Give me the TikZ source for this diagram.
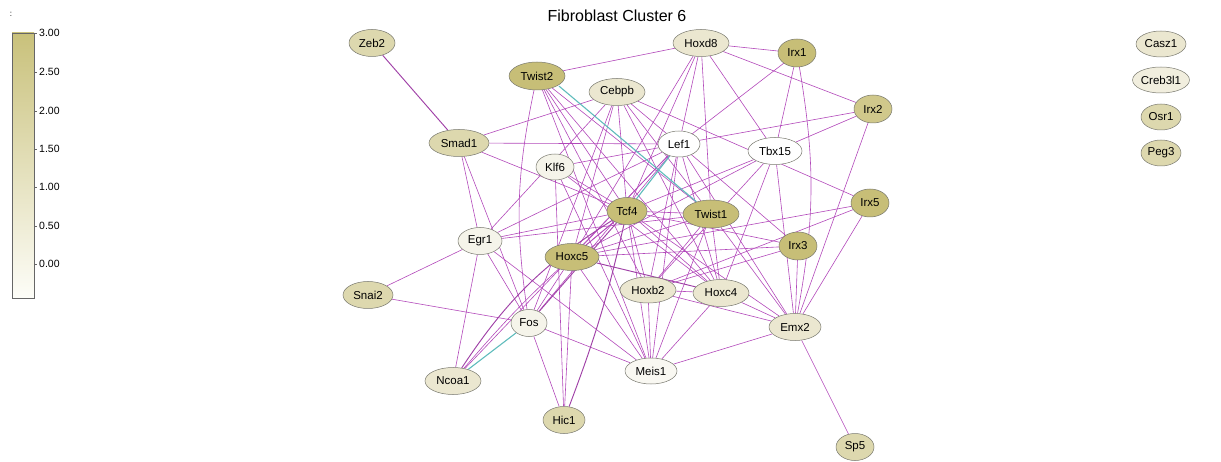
\documentclass[tikz,border=0pt]{standalone}
\usepackage{fontspec}
\setmainfont{Liberation Sans}
\usetikzlibrary{shapes.geometric}
\pgfdeclarelayer{bg}
\pgfsetlayers{bg,main}
\definecolor{cfive}{RGB}{199,190,119}
\definecolor{cfour}{RGB}{208,200,139}
\definecolor{cthree}{RGB}{221,216,174}
\definecolor{ctwo}{RGB}{235,231,208}
\definecolor{cone}{RGB}{245,244,234}
\definecolor{czero}{RGB}{255,255,255}
\definecolor{cbtop}{RGB}{201,193,123}
\definecolor{cbbot}{RGB}{253,253,248}
\definecolor{edgepurple}{RGB}{178,72,186}
\definecolor{edgeteal}{RGB}{95,188,188}
\definecolor{nodeborder}{RGB}{120,120,110}
\begin{document}
\begin{tikzpicture}[x=1pt,y=1pt,
  gn/.style={ellipse, draw=nodeborder, line width=0.5pt, inner sep=0pt,
    minimum height=27pt, font=\fontsize{11.5}{13}\selectfont},
  e/.style={draw=edgepurple, line width=0.6pt},
  eh/.style={draw=edgepurple!90!black, line width=0.95pt},
  et/.style={draw=edgeteal, line width=1.1pt},
  lab/.style={anchor=west, font=\fontsize{10.5}{12}\selectfont, inner sep=1pt}]
\useasboundingbox (0,0) rectangle (1221,-462);

% title
\node[font=\fontsize{16}{18}\selectfont] (title) at (617,-16) {Fibroblast Cluster 6};

% legend
\node[font=\fontsize{8}{9}\selectfont, inner sep=0pt] (colon) at (11,-14) {:};
\shade[top color=cbtop, bottom color=cbbot] (12,-33) rectangle (34,-298);
\draw[gray!80!black, line width=0.5pt] (12,-33) rectangle (34,-298);
\foreach \v/\y in {3.00/33,2.50/72,2.00/111,1.50/149,1.00/187,0.50/226,0.00/264}{
  \draw[gray!80!black, line width=0.5pt] (34,-\y) -- (37,-\y);
  \node[lab] (tick\y) at (38,-\y) {\v};
}

% nodes
\node[gn, minimum width=46pt, fill=cthree] (Zeb2) at (372,-43) {Zeb2};
\node[gn, minimum width=56pt, minimum height=28pt, fill=cfive] (Twist2) at (537,-76) {Twist2};
\node[gn, minimum width=56pt, fill=ctwo] (Cebpb) at (617,-92) {Cebpb};
\node[gn, minimum width=56pt, fill=ctwo] (Hoxd8) at (701,-43) {Hoxd8};
\node[gn, minimum width=38pt, minimum height=28pt, fill=cfive] (Irx1) at (797,-53) {Irx1};
\node[gn, minimum width=38pt, minimum height=28pt, fill=cfour] (Irx2) at (873,-109) {Irx2};
\node[gn, minimum width=60pt, fill=cthree] (Smad1) at (459,-143) {Smad1};
\node[gn, minimum width=42pt, minimum height=26pt, fill=czero] (Lef1) at (679,-144) {Lef1};
\node[gn, minimum width=54pt, fill=czero] (Tbx15) at (775,-151) {Tbx15};
\node[gn, minimum width=38pt, minimum height=26pt, fill=cone] (Klf6) at (555,-167) {Klf6};
\node[gn, minimum width=40pt, fill=cfive] (Tcf4) at (627,-211) {Tcf4};
\node[gn, minimum width=56pt, minimum height=28pt, fill=cfive] (Twist1) at (711,-214) {Twist1};
\node[gn, minimum width=38pt, minimum height=28pt, fill=cfive] (Irx5) at (870,-203) {Irx5};
\node[gn, minimum width=44pt, fill=cone] (Egr1) at (480,-241) {Egr1};
\node[gn, minimum width=38pt, minimum height=28pt, fill=cfive] (Irx3) at (798,-246) {Irx3};
\node[gn, minimum width=54pt, fill=cfive] (Hoxc5) at (572,-257) {Hoxc5};
\node[gn, minimum width=50pt, fill=cthree] (Snai2) at (368,-295) {Snai2};
\node[gn, minimum width=56pt, minimum height=26pt, fill=ctwo] (Hoxb2) at (648,-290) {Hoxb2};
\node[gn, minimum width=56pt, fill=ctwo] (Hoxc4) at (721,-293) {Hoxc4};
\node[gn, minimum width=36pt, fill=cone] (Fos) at (529,-323) {Fos};
\node[gn, minimum width=52pt, fill=ctwo] (Emx2) at (795,-327) {Emx2};
\node[gn, minimum width=56pt, fill=ctwo] (Ncoa1) at (453,-381) {Ncoa1};
\node[gn, minimum width=52pt, minimum height=26pt, fill=cone!60!white] (Meis1) at (651,-371) {Meis1};
\node[gn, minimum width=42pt, fill=cthree] (Hic1) at (564,-420) {Hic1};
\node[gn, minimum width=38pt, fill=cthree] (Sp5) at (855,-447) {Sp5};
\node[gn, minimum width=50pt, minimum height=26pt, fill=ctwo] (Casz1) at (1161,-44) {Casz1};
\node[gn, minimum width=56pt, minimum height=26pt, fill=ctwo!70!white] (Creb3l1) at (1161,-80) {Creb3l1};
\node[gn, minimum width=40pt, minimum height=26pt, fill=cthree] (Osr1) at (1161,-117) {Osr1};
\node[gn, minimum width=40pt, minimum height=26pt, fill=cthree] (Peg3) at (1161,-153) {Peg3};

% edges
\begin{pgfonlayer}{bg}
\foreach \a/\b in {
  Twist2/Hoxd8, Twist2/Tcf4, Twist2/Hoxc4, Twist2/Hoxb2, Twist2/Meis1, Twist2/Twist1,
  Cebpb/Smad1, Cebpb/Egr1, Cebpb/Hoxc5, Cebpb/Fos, Cebpb/Tcf4, Cebpb/Lef1,
  Cebpb/Irx5, Cebpb/Hoxc4, Cebpb/Twist1,
  Hoxd8/Irx1, Hoxd8/Irx2, Hoxd8/Tbx15, Hoxd8/Twist1, Hoxd8/Tcf4, Hoxd8/Hoxc5, Hoxd8/Lef1,
  Irx1/Lef1, Irx1/Tbx15, Irx2/Lef1, Irx2/Tbx15, Irx2/Emx2,
  Tbx15/Hoxb2, Tbx15/Hoxc4, Tbx15/Emx2, Tbx15/Hoxc5, Tbx15/Tcf4,
  Smad1/Lef1, Smad1/Tcf4, Smad1/Egr1, Smad1/Fos,
  Lef1/Klf6, Lef1/Egr1, Lef1/Hoxc5, Lef1/Fos, Lef1/Hoxc4, Lef1/Irx3, Lef1/Meis1,
  Lef1/Hoxb2, Lef1/Emx2, Lef1/Ncoa1,
  Klf6/Tcf4, Klf6/Hoxc4, Klf6/Hic1, Klf6/Meis1,
  Tcf4/Twist1, Tcf4/Egr1, Tcf4/Hoxc5, Tcf4/Meis1, Tcf4/Hoxb2, Tcf4/Hoxc4,
  Tcf4/Emx2, Tcf4/Irx3,
  Twist1/Hoxc4, Twist1/Hoxb2, Twist1/Meis1, Twist1/Egr1, Twist1/Hoxc5, Twist1/Emx2,
  Irx5/Emx2, Irx5/Hoxb2, Irx5/Hoxc5,
  Egr1/Snai2, Egr1/Ncoa1, Egr1/Fos, Egr1/Meis1,
  Irx3/Emx2, Irx3/Hoxc5, Irx3/Hoxb2,
  Hoxc5/Hic1, Hoxc5/Meis1, Hoxc5/Fos,
  Snai2/Fos, Hoxb2/Hoxc4, Hoxb2/Meis1, Hoxb2/Emx2, Hoxc4/Meis1, Hoxc4/Emx2,
  Fos/Hic1, Fos/Meis1, Emx2/Meis1, Emx2/Sp5}
  {\draw[e] (\a) -- (\b);}
\draw[eh] (Zeb2) -- (Smad1);
\draw[eh] (Hoxc5) -- (Hoxc4);
\draw[eh] (Fos) -- (Tcf4);
\draw[eh] (Ncoa1) to[bend left=12] (Tcf4);
\draw[e] (Ncoa1) to[bend left=5] (Tcf4);
\draw[eh] (Hic1) to[bend right=4] (Tcf4);
\draw[e] (Twist2) to[bend right=10] (Fos);
\draw[e] (Irx1) to[bend left=10] (Emx2);
\draw[et] ([xshift=2pt]Twist2.south east) -- (Twist1);
\draw[et] (Lef1) -- (Tcf4);
\draw[et] (Fos) -- (Ncoa1);
\end{pgfonlayer}
\end{tikzpicture}
\end{document}
